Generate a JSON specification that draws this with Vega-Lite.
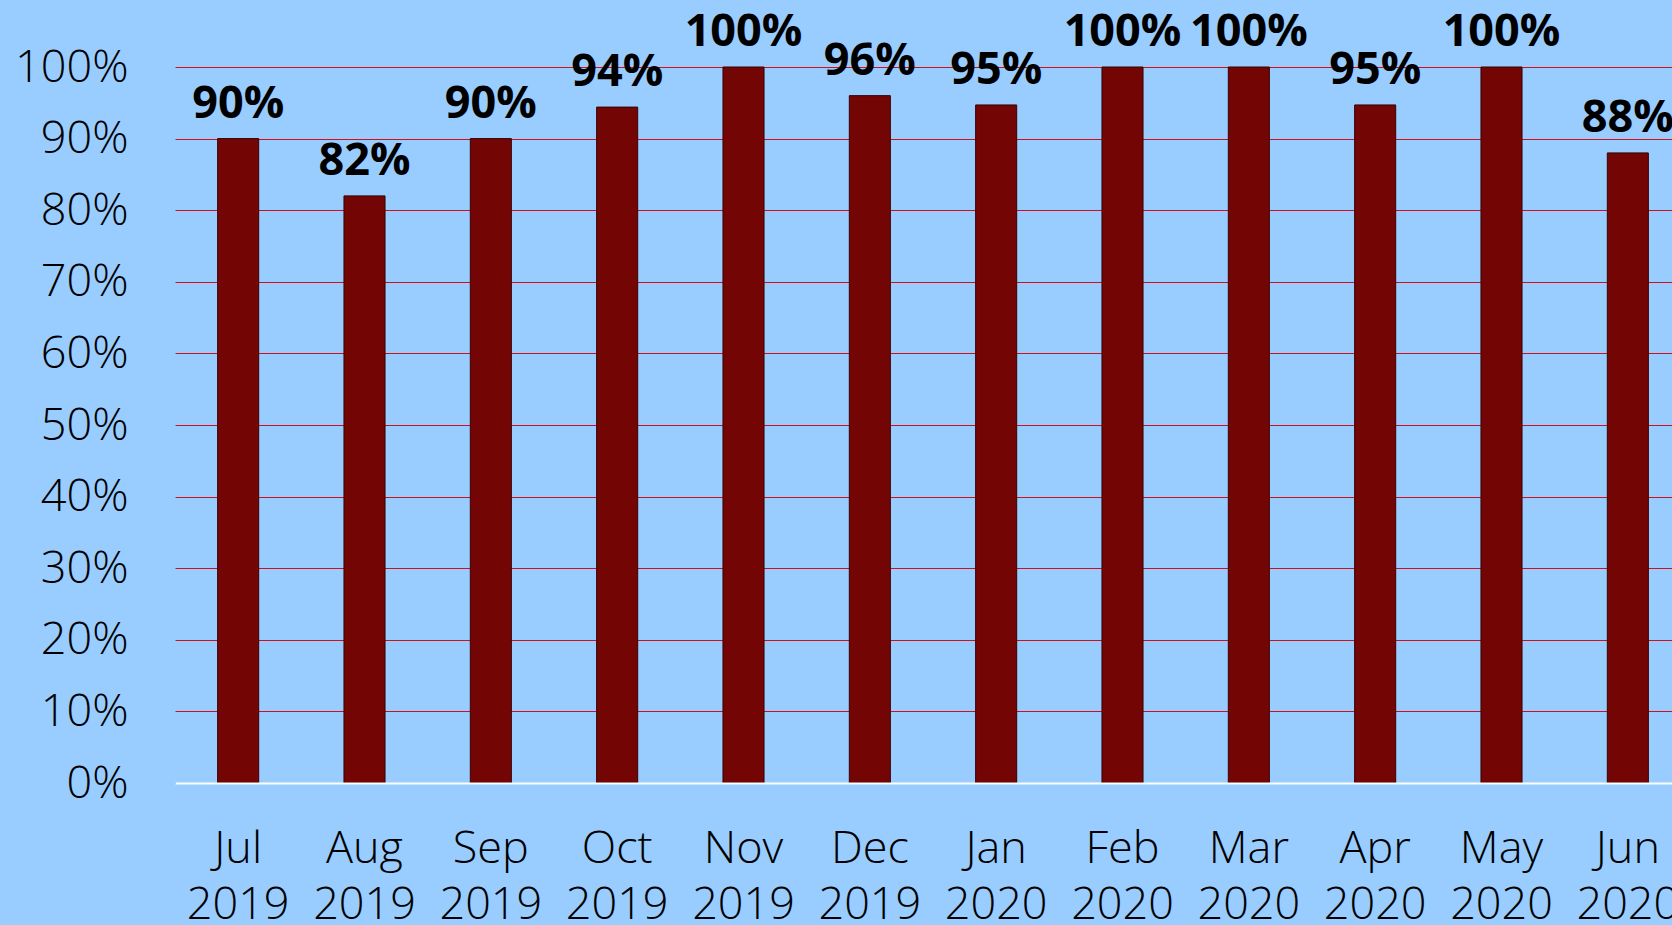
{
  "$schema": "https://vega.github.io/schema/vega-lite/v6.json",
  "autosize": "none",
  "width": 1497,
  "height": 716,
  "padding": {"left": 175, "top": 67, "right": 0, "bottom": 142},
  "background": "#99CCFF",
  "config": {"view": {"stroke": null}, "font": "Open Sans"},
  "data": {
    "values": [
      {"month": "Jul 2019", "value": 0.90},
      {"month": "Aug 2019", "value": 0.82},
      {"month": "Sep 2019", "value": 0.90},
      {"month": "Oct 2019", "value": 0.944},
      {"month": "Nov 2019", "value": 1.00},
      {"month": "Dec 2019", "value": 0.96},
      {"month": "Jan 2020", "value": 0.947},
      {"month": "Feb 2020", "value": 1.00},
      {"month": "Mar 2020", "value": 1.00},
      {"month": "Apr 2020", "value": 0.947},
      {"month": "May 2020", "value": 1.00},
      {"month": "Jun 2020", "value": 0.88}
    ]
  },
  "encoding": {
    "x": {
      "field": "month",
      "type": "nominal",
      "sort": null,
      "scale": {"range": [0, 1516], "paddingInner": 0.675, "paddingOuter": 0.3375},
      "axis": {
        "title": null,
        "labelExpr": "split(datum.label, ' ')",
        "labelAngle": 0,
        "labelFontSize": 45,
        "labelFontWeight": 350,
        "labelLineHeight": 56,
        "labelPadding": 43,
        "labelBaseline": "top",
        "labelColor": "black",
        "labelOverlap": false,
        "labelBound": false,
        "ticks": false,
        "domain": true,
        "domainColor": "white",
        "domainWidth": 2,
        "zindex": 1
      }
    },
    "y": {
      "field": "value",
      "type": "quantitative",
      "scale": {"domain": [0, 1], "nice": false},
      "axis": {
        "title": null,
        "format": ".0%",
        "values": [0, 0.1, 0.2, 0.3, 0.4, 0.5, 0.6, 0.7, 0.8, 0.9, 1.0],
        "grid": true,
        "gridColor": "#D01018",
        "gridWidth": 1,
        "domain": false,
        "ticks": false,
        "labelPadding": 47,
        "labelFontSize": 45,
        "labelFontWeight": 350,
        "labelColor": "black"
      }
    }
  },
  "layer": [
    {
      "mark": {"type": "bar", "width": {"band": 1}, "color": "#730505", "stroke": "#3a0000", "strokeWidth": 1}
    },
    {
      "mark": {"type": "text", "dy": -21, "fontSize": 45, "fontWeight": "bold", "baseline": "alphabetic", "color": "black"},
      "encoding": {
        "text": {"field": "value", "type": "quantitative", "format": ".0%"}
      }
    }
  ]
}
